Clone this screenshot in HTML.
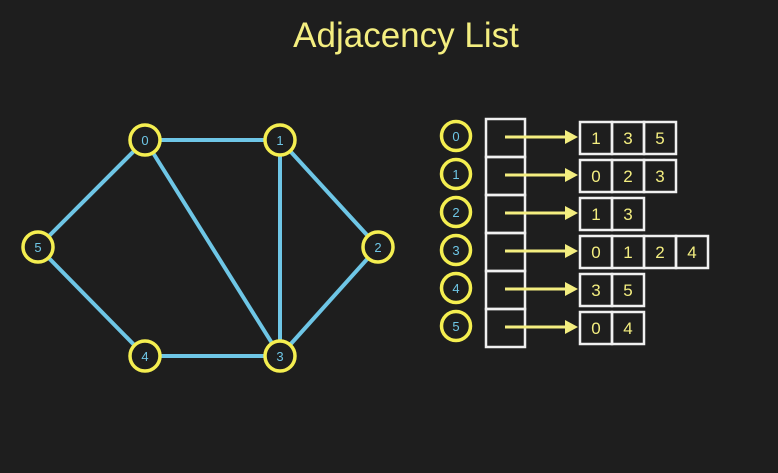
<!DOCTYPE html>
<html><head><style>
html,body{margin:0;padding:0;background:#1e1e1e;}
svg{display:block;}
</style></head><body>
<svg width="778" height="473" xmlns="http://www.w3.org/2000/svg" font-family="Liberation Sans, sans-serif">
<rect width="778" height="473" fill="#1e1e1e"/>
<text x="406" y="47" fill="#f4ee80" font-size="35" text-anchor="middle">Adjacency List</text>
<g stroke="#6ec6e6" stroke-width="4">
<line x1="145" y1="140" x2="280" y2="140"/>
<line x1="145" y1="140" x2="38" y2="247"/>
<line x1="145" y1="140" x2="280" y2="356"/>
<line x1="280" y1="140" x2="280" y2="356"/>
<line x1="280" y1="140" x2="378" y2="247"/>
<line x1="378" y1="247" x2="280" y2="356"/>
<line x1="38" y1="247" x2="145" y2="356"/>
<line x1="145" y1="356" x2="280" y2="356"/>
</g>
<g fill="#1e1e1e" stroke="#f4ee50" stroke-width="3.5">
<circle cx="145" cy="140" r="15"/><circle cx="280" cy="140" r="15"/>
<circle cx="38" cy="247" r="15"/><circle cx="378" cy="247" r="15"/>
<circle cx="145" cy="356" r="15"/><circle cx="280" cy="356" r="15"/>
<circle cx="456" cy="136" r="14.5"/><circle cx="456" cy="174" r="14.5"/>
<circle cx="456" cy="212" r="14.5"/><circle cx="456" cy="250" r="14.5"/>
<circle cx="456" cy="288" r="14.5"/><circle cx="456" cy="326" r="14.5"/>
</g>
<g fill="#6ec6e6" font-size="13" text-anchor="middle">
<text x="145" y="145">0</text><text x="280" y="145">1</text>
<text x="38" y="252">5</text><text x="378" y="252">2</text>
<text x="145" y="361">4</text><text x="280" y="361">3</text>
<text x="456" y="141">0</text><text x="456" y="179">1</text>
<text x="456" y="217">2</text><text x="456" y="255">3</text>
<text x="456" y="293">4</text><text x="456" y="331">5</text>
</g>
<g fill="none" stroke="#f0f0f0" stroke-width="2.5">
<rect x="486" y="119" width="39" height="38"/><rect x="486" y="157" width="39" height="38"/>
<rect x="486" y="195" width="39" height="38"/><rect x="486" y="233" width="39" height="38"/>
<rect x="486" y="271" width="39" height="38"/><rect x="486" y="309" width="39" height="38"/>
</g>
<g stroke="#f4ee80" stroke-width="3">
<line x1="505" y1="137" x2="568" y2="137"/><line x1="505" y1="175" x2="568" y2="175"/>
<line x1="505" y1="213" x2="568" y2="213"/><line x1="505" y1="251" x2="568" y2="251"/>
<line x1="505" y1="289" x2="568" y2="289"/><line x1="505" y1="327" x2="568" y2="327"/>
</g>
<g fill="#f4ee80">
<polygon points="565,130 578,137 565,144"/><polygon points="565,168 578,175 565,182"/>
<polygon points="565,206 578,213 565,220"/><polygon points="565,244 578,251 565,258"/>
<polygon points="565,282 578,289 565,296"/><polygon points="565,320 578,327 565,334"/>
</g>
<g fill="none" stroke="#f0f0f0" stroke-width="2.5">
<rect x="580" y="122" width="32" height="32"/><rect x="612" y="122" width="32" height="32"/><rect x="644" y="122" width="32" height="32"/>
<rect x="580" y="160" width="32" height="32"/><rect x="612" y="160" width="32" height="32"/><rect x="644" y="160" width="32" height="32"/>
<rect x="580" y="198" width="32" height="32"/><rect x="612" y="198" width="32" height="32"/>
<rect x="580" y="236" width="32" height="32"/><rect x="612" y="236" width="32" height="32"/><rect x="644" y="236" width="32" height="32"/><rect x="676" y="236" width="32" height="32"/>
<rect x="580" y="274" width="32" height="32"/><rect x="612" y="274" width="32" height="32"/>
<rect x="580" y="312" width="32" height="32"/><rect x="612" y="312" width="32" height="32"/>
</g>
<g fill="#f4ee80" font-size="17" text-anchor="middle">
<text x="596" y="144">1</text><text x="628" y="144">3</text><text x="660" y="144">5</text>
<text x="596" y="182">0</text><text x="628" y="182">2</text><text x="660" y="182">3</text>
<text x="596" y="220">1</text><text x="628" y="220">3</text>
<text x="596" y="258">0</text><text x="628" y="258">1</text><text x="660" y="258">2</text><text x="692" y="258">4</text>
<text x="596" y="296">3</text><text x="628" y="296">5</text>
<text x="596" y="334">0</text><text x="628" y="334">4</text>
</g>
</svg>
</body></html>
